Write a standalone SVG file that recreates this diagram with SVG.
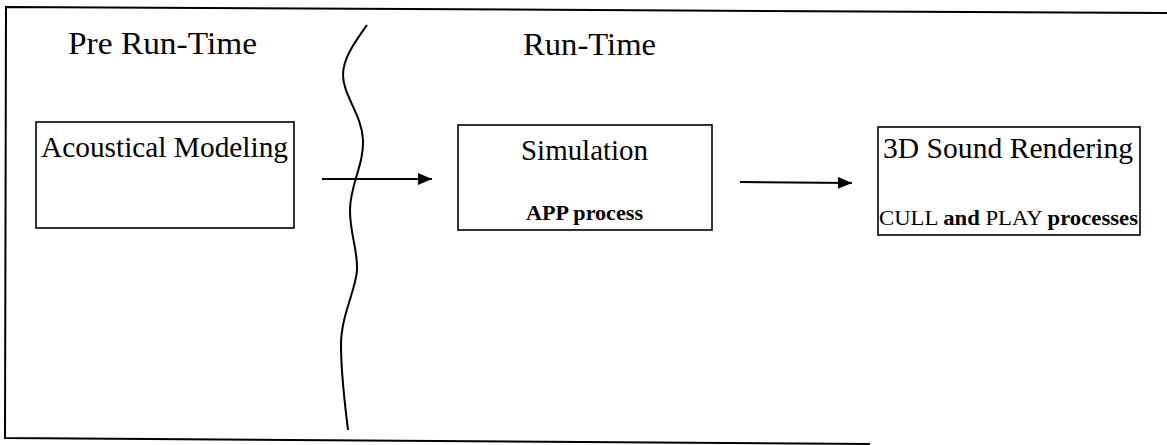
<svg xmlns="http://www.w3.org/2000/svg" width="1167" height="445" viewBox="0 0 1167 445">
<style>
.frame{fill:none;stroke:#000;stroke-width:2}
.box{fill:none;stroke:#000;stroke-width:1.6}
.t{font-family:"Liberation Serif","Times New Roman",serif;fill:#000}
.conn{stroke:#000;stroke-width:2;fill:none}
</style>
<defs>
<marker id="ah" viewBox="0 0 14 12" refX="14" refY="6" markerWidth="14" markerHeight="12" markerUnits="userSpaceOnUse" orient="auto">
<path d="M0,0 L14,6 L0,12 Z" fill="#000"/>
</marker>
</defs>
<rect width="1167" height="445" fill="#fff"/>
<polyline class="frame" points="1167,13 6,7 5,438 870,444"/>
<path class="frame" d="M367,25 C355,42 343,58 343,75 C343,95 362,115 363,140 C364,165 350,185 350,210 C350,235 358,250 357,270 C356,290 341,315 341,345 C341,375 345,405 348,430"/>
<text class="t" x="68" y="54" font-size="32" textLength="189" lengthAdjust="spacingAndGlyphs">Pre Run-Time</text>
<text class="t" x="523" y="55" font-size="32" textLength="133" lengthAdjust="spacingAndGlyphs">Run-Time</text>
<g id="acoustical">
<rect class="box" x="36" y="122" width="258" height="106"/>
<text class="t" x="41" y="157" font-size="29" textLength="247" lengthAdjust="spacingAndGlyphs">Acoustical Modeling</text>
</g>
<g id="simulation">
<rect class="box" x="458" y="125" width="254" height="105"/>
<text class="t" x="521" y="160" font-size="29" textLength="127" lengthAdjust="spacingAndGlyphs">Simulation</text>
<text class="t" x="526" y="220" font-size="21" font-weight="bold" textLength="117" lengthAdjust="spacingAndGlyphs">APP process</text>
</g>
<g id="rendering">
<rect class="box" x="878" y="127" width="262" height="108"/>
<text class="t" x="883" y="158" font-size="29" textLength="250" lengthAdjust="spacingAndGlyphs">3D Sound Rendering</text>
<text class="t" x="879" y="225" font-size="22" textLength="259" lengthAdjust="spacingAndGlyphs">CULL <tspan font-weight="bold">and</tspan> PLAY <tspan font-weight="bold">processes</tspan></text>
</g>
<g id="connectors">
<line class="conn" x1="322" y1="179" x2="432" y2="179" marker-end="url(#ah)"/>
<line class="conn" x1="740" y1="182" x2="852" y2="183" marker-end="url(#ah)"/>
</g>
</svg>
